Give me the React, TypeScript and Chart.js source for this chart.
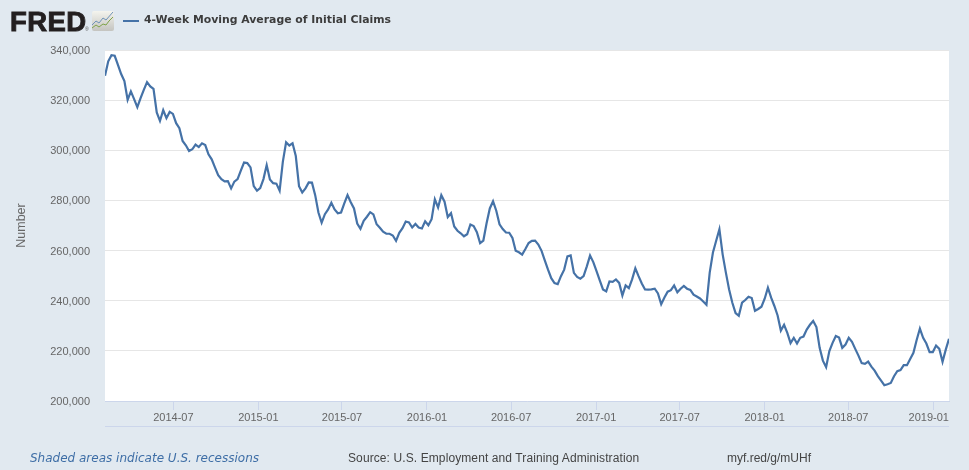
import React, { useEffect, useRef } from "react";
import { Chart, registerables } from "chart.js";

Chart.register(...registerables);

const seriesName = "4-Week Moving Average of Initial Claims";
const startDate = "2014-02-03";
const weekStep = 7;
const claims = [
  329700, 335500, 337900, 337700, 334100, 330400, 327600, 320100, 323500, 320400, 317200, 320800, 324100, 327200, 325500, 324500,
  315100, 311700, 316000, 312800, 315300, 314500, 310800, 308800, 303700, 302000, 299700, 300400, 302300, 301300, 302800, 302100,
  298400, 296400, 293200, 290100, 288500, 287600, 287700, 284800, 287500, 288500, 291900, 295100, 294900, 293200, 285700, 283900,
  284900, 288500, 294100, 288400, 286900, 286700, 283900, 295500, 303200, 301900, 302800, 297700, 285700, 283200, 284800, 287200,
  287100, 282100, 275200, 271100, 274500, 276400, 279100, 276400, 274900, 275200, 278800, 282100, 279300, 276800, 270800, 268700,
  271900, 273500, 275300, 274400, 270500, 269100, 267500, 266700, 266700, 266000, 263900, 267100,
  268900, 271600, 271200, 269200, 270600, 269200, 268800, 271700, 270100, 272500, 280400, 277200, 282100, 279500, 273400, 274900,
  269600, 267900, 266900, 265700, 266500, 270400, 269800, 267300, 263000, 264000, 270900, 276800, 279700, 275900, 270500, 268600,
  267200, 267100, 265000, 259900, 259300, 258400, 260600, 263000, 263900, 264000, 262400, 259900, 256100, 252400, 249000, 247000,
  246600, 249800, 252400, 257700, 258100, 251100, 249500, 248800, 249800, 253700, 258000, 255400, 251800, 248100, 244500, 243700,
  247700, 247500, 248500, 247100, 242100, 246100, 245000, 248500, 252900, 249800, 246900, 244500, 244400, 244500, 244800, 242900,
  238600, 241300, 243600, 244200, 246100, 243400, 244800,
  245900, 244800, 244300, 242400, 241700, 240900, 239700, 238400, 251200, 259200, 263900, 268500, 258500, 251200, 244500, 239200,
  235100, 234000, 239200, 240300, 241600, 241100, 236000, 236700, 237600, 240800, 245200, 241200, 237900, 234100, 228100, 230400,
  227200, 223100, 225200, 222900, 225200, 225700, 228500, 230400, 231900, 229500, 221200, 216100, 213500, 219900, 223200, 225900,
  225300, 221200, 222500, 225200, 223600, 220800, 218100, 215100, 214800, 215700, 213700, 212100, 209900, 208100, 206300, 206700,
  207200, 209900, 211900, 212300, 214300, 214300, 216800, 219200, 224300, 228900, 225200, 222900, 219500, 219500, 222100, 220800,
  215600, 220500, 224800,
];
const xTickLabels = ["2014-07", "2015-01", "2015-07", "2016-01", "2016-07", "2017-01", "2017-07", "2018-01", "2018-07", "2019-01"];
const yMin = 200000;
const yMax = 340000;
const yStep = 20000;

const DAY = 86400000;
const dayOf = (iso: string) => Date.parse(iso) / DAY;
const startDay = dayOf(startDate);
const tickDays = xTickLabels.map((l) => dayOf(l + "-01") - startDay);
const points = claims.map((y, i) => ({ x: i * weekStep, y }));
const xMax = (claims.length - 1) * weekStep;

const frame = {
  id: "frame",
  beforeDraw(chart: any) {
    const { ctx, chartArea: a } = chart;
    ctx.save();
    ctx.fillStyle = "#e1e9f0";
    ctx.fillRect(0, 0, chart.width, chart.height);
    ctx.fillStyle = "#ffffff";
    ctx.fillRect(a.left, a.top, a.right - a.left, a.bottom - a.top);
    ctx.restore();
  },
  afterDraw(chart: any) {
    const { ctx, chartArea: a } = chart;
    ctx.save();
    ctx.strokeStyle = "#ccd6eb";
    ctx.lineWidth = 1;
    ctx.beginPath();
    ctx.moveTo(a.left, a.bottom + 25.5);
    ctx.lineTo(a.right, a.bottom + 25.5);
    ctx.stroke();
    ctx.restore();
  },
};

const abs = (left: number, top: number, extra: React.CSSProperties = {}): React.CSSProperties => ({
  position: "absolute",
  left,
  top,
  whiteSpace: "nowrap",
  ...extra,
});

export default function App() {
  const ref = useRef<HTMLCanvasElement>(null);
  useEffect(() => {
    document.body.style.margin = "0";
    const chart = new Chart(ref.current!, {
      type: "line",
      data: {
        datasets: [
          {
            label: seriesName,
            data: points,
            borderColor: "#4572a7",
            borderWidth: 2.2,
            pointRadius: 0,
            tension: 0,
            fill: false,
          },
        ],
      },
      options: {
        responsive: false,
        animation: false,
        events: [],
        parsing: false,
        layout: { padding: { top: 50, right: 20, left: 0, bottom: 0 } },
        plugins: { legend: { display: false }, title: { display: false }, tooltip: { enabled: false } },
        scales: {
          x: {
            type: "linear",
            min: 0,
            max: xMax,
            afterFit: (s: any) => {
              s.height = 69;
            },
            afterBuildTicks: (s: any) => {
              s.ticks = tickDays.map((value) => ({ value }));
            },
            grid: { drawOnChartArea: false, drawTicks: true, tickLength: 9, tickColor: "#ccd6eb" },
            border: { display: true, color: "#ccd6eb" },
            ticks: {
              autoSkip: false,
              maxRotation: 0,
              minRotation: 0,
              padding: 1,
              color: "#666666",
              font: { family: "'Liberation Sans'", size: 11 },
              callback: (v: any) => {
                const i = tickDays.indexOf(v);
                const label = xTickLabels[i];
                return i === xTickLabels.length - 1 ? label + "   " : label;
              },
            },
          },
          y: {
            type: "linear",
            min: yMin,
            max: yMax,
            afterFit: (s: any) => {
              s.width = 105;
            },
            grid: { color: "#e6e6e6", drawTicks: false, tickLength: 0 },
            border: { display: false },
            title: {
              display: true,
              text: "Number",
              color: "#666666",
              font: { family: "'Liberation Sans'", size: 12.5 },
              padding: { top: 14, bottom: 0 },
            },
            ticks: {
              stepSize: yStep,
              padding: 15,
              labelOffset: 1,
              color: "#666666",
              font: { family: "'Liberation Sans'", size: 11 },
              callback: (v: any) => Number(v).toLocaleString("en-US"),
            },
          },
        },
      },
      plugins: [frame],
    } as any);
    return () => chart.destroy();
  }, []);

  return (
    <div style={{ position: "relative", width: 969, height: 470, overflow: "hidden" }}>
      <canvas ref={ref} width={969} height={470} style={{ display: "block" }} />
      <div
        style={abs(10, 5.5, {
          font: "bold 27.5px 'Liberation Sans'",
          color: "#231f20",
          WebkitTextStroke: "0.9px #231f20",
          lineHeight: "31px",
          letterSpacing: "0.4px",
        })}
      >
        FRED
      </div>
      <div style={abs(85, 26, { font: "5px 'Liberation Sans'", color: "#555555", lineHeight: "6px" })}>®</div>
      <svg style={abs(92, 11)} width={22} height={20} viewBox="0 0 22 20">
        <defs>
          <linearGradient id="fredIcon" x1="0" y1="0" x2="0" y2="1">
            <stop offset="0" stopColor="#f4f4ee" />
            <stop offset="1" stopColor="#c4c4c0" />
          </linearGradient>
        </defs>
        <rect width={22} height={20} rx={2} fill="url(#fredIcon)" />
        <polyline points="0,14 4,10 7,12 11,7 14,9 21,1" fill="none" stroke="#6f93b8" strokeWidth={1} />
        <polyline points="0,17 4,14 7,16 11,13 14,14 17,10 21,6" fill="none" stroke="#7fa34a" strokeWidth={1} />
      </svg>
      <div style={abs(123, 19.5, { width: 16, height: 2, background: "#4572a7" })} />
      <div style={abs(144, 12, { font: "bold 10.87px 'DejaVu Sans'", color: "#3c3c3c", lineHeight: "15px" })}>{seriesName}</div>
      <div style={abs(30, 451, { font: "italic 12px 'DejaVu Sans'", color: "#3e6ea6", lineHeight: "15px" })}>
        Shaded areas indicate U.S. recessions
      </div>
      <div style={abs(348, 451, { font: "12px 'Liberation Sans'", color: "#444444", lineHeight: "15px", letterSpacing: "0.1px" })}>
        Source: U.S. Employment and Training Administration
      </div>
      <div style={abs(727, 451, { font: "12px 'Liberation Sans'", color: "#444444", lineHeight: "15px" })}>myf.red/g/mUHf</div>
    </div>
  );
}
